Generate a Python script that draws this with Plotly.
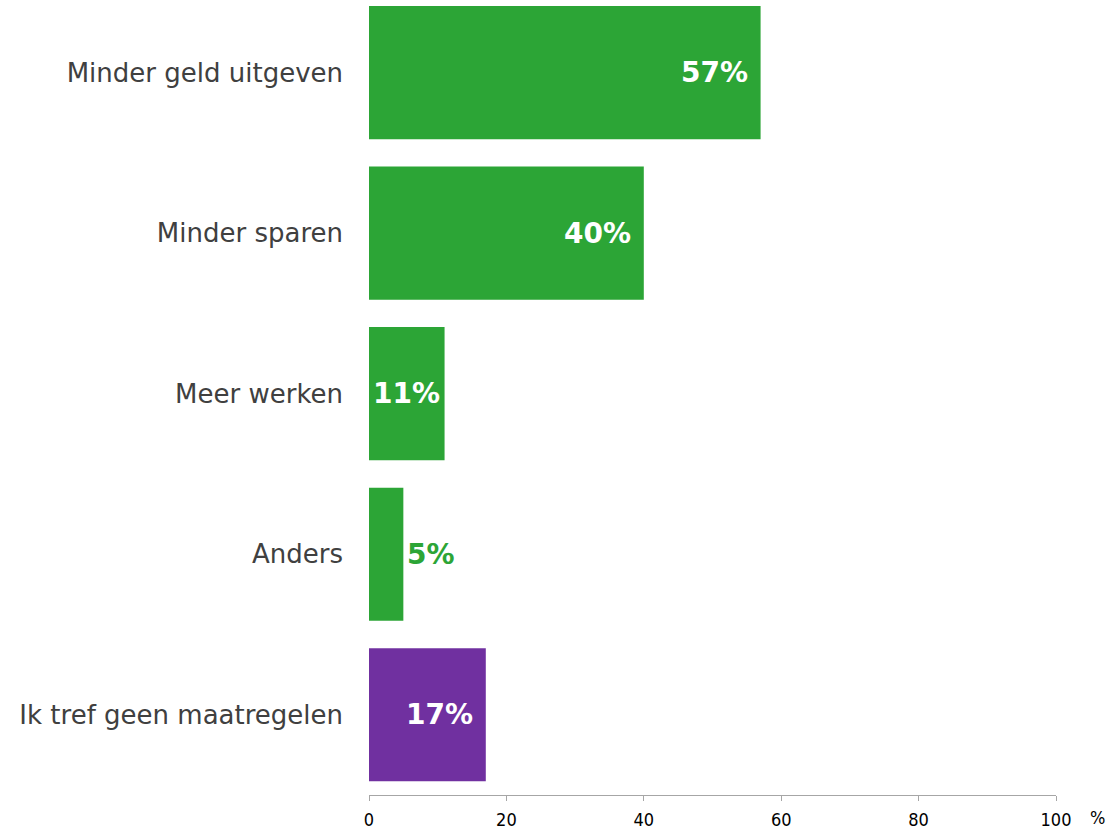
import plotly.graph_objects as go

categories = ['Minder geld uitgeven', 'Minder sparen', 'Meer werken', 'Anders',
              'Ik tref geen maatregelen']
values = [57, 40, 11, 5, 17]
bar_colors = ['#2ca536', '#2ca536', '#2ca536', '#2ca536', '#7030a0']
x_ticks = [0, 20, 40, 60, 80, 100]

fig = go.Figure(go.Bar(
    x=values, y=categories, orientation='h',
    marker=dict(color=bar_colors, line=dict(width=0)),
    hoverinfo='skip',
))

# value labels: inside near the end, centred if tight, outside if too small
for cat, val, col in zip(categories, values, bar_colors):
    label = f'{val}%'
    if val >= 15:
        ann = dict(x=val, xanchor='right', xshift=-11, font_color='white')
    elif val >= 10:
        ann = dict(x=val / 2, xanchor='center', xshift=0, font_color='white')
    else:
        ann = dict(x=val, xanchor='left', xshift=2, font_color=col)
    fig.add_annotation(y=cat, text=f'<b>{label}</b>', showarrow=False,
                       yanchor='middle', font=dict(family='DejaVu Sans', size=28,
                                                   color=ann.pop('font_color')),
                       **ann)

fig.add_annotation(x=1, xref='paper', y=0, yref='paper', text='%', showarrow=False,
                   xanchor='left', yanchor='middle', xshift=33, yshift=-22,
                   borderpad=0,
                   font=dict(family='DejaVu Sans Condensed', size=18, color='#000000'))

fig.update_xaxes(range=[0, 100], tickvals=x_ticks, showgrid=False, zeroline=False,
                 showline=True, linecolor='#a6a6a6', linewidth=1,
                 ticks='outside', ticklen=5, tickcolor='#a6a6a6', ticklabelstandoff=3,
                 tickfont=dict(family='DejaVu Sans Condensed', size=18, color='#000000'))
fig.update_yaxes(categoryorder='array', categoryarray=categories,
                 range=[4.5, -0.453], showgrid=False, zeroline=False, showline=False,
                 ticks='', ticklabelstandoff=25,
                 tickfont=dict(family='DejaVu Sans', size=26, color='#404040'))

fig.update_layout(width=1115, height=830, bargap=0.17, showlegend=False,
                  plot_bgcolor='white', paper_bgcolor='white',
                  margin=dict(l=369, r=59, t=0, b=35))

fig.write_html('out.html', config={'displayModeBar': False},
               post_script="document.body.style.margin='0';")
